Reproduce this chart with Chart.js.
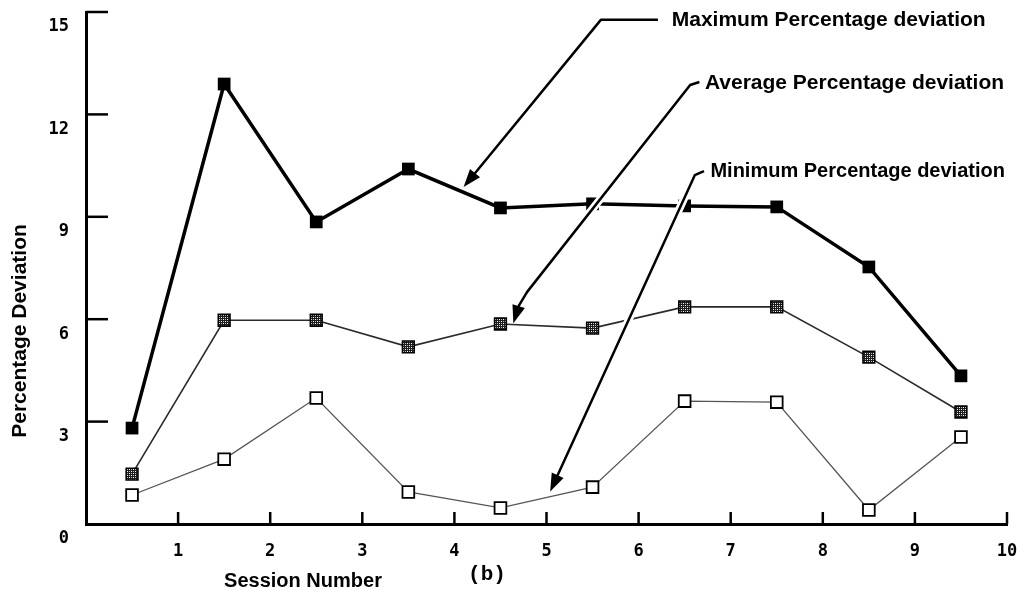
<!DOCTYPE html>
<html>
<head>
<meta charset="utf-8">
<script src="https://cdn.jsdelivr.net/npm/chart.js@4/dist/chart.umd.min.js"></script>
<style>
  html, body { margin: 0; padding: 0; background: #fff; }
  #wrap { width: 1024px; height: 599px; }
</style>
</head>
<body>
<div id="wrap"><canvas id="c" width="1024" height="599"></canvas></div>
<script>
// Session midpoints and the three deviation series (percent)
const sessions = [0.5, 1.5, 2.5, 3.5, 4.5, 5.5, 6.5, 7.5, 8.5, 9.5];
const maxDev = [2.81, 12.89, 8.85, 10.40, 9.26, 9.38, 9.32, 9.29, 7.53, 4.34];
const avgDev = [1.46, 5.97, 5.97, 5.19, 5.86, 5.74, 6.36, 6.36, 4.89, 3.28];
const minDev = [0.85, 1.90, 3.69, 0.94, 0.47, 1.08, 3.60, 3.57, 0.41, 2.55];

// Axis ticks
const xTicks = [0, 1, 2, 3, 4, 5, 6, 7, 8, 9, 10];
const yTicks = [0, 3, 6, 9, 12, 15];

// Callout labels with their leader paths, in data units (last point is the arrow tip)
const calloutText = ['Maximum Percentage deviation', 'Average Percentage deviation', 'Minimum Percentage deviation'];
const calloutSize = [21, 21, 20];
const calloutAnchor = [[6.36, 14.76], [6.72, 12.90], [6.78, 10.33]];
const calloutPath = [
  [[6.21, 14.77], [5.59, 14.77], [4.10, 9.87]],
  [[6.66, 12.95], [6.56, 12.86], [4.79, 6.80], [4.70, 6.40], [4.64, 5.88]],
  [[6.71, 10.34], [6.61, 10.22], [5.04, 0.95]]
];

const toXY = (xs, ys) => sessions.map((s, i) => ({ x: s, y: ys[i] }));

// Dithered fill for the average markers
const pc = document.createElement('canvas');
pc.width = 4; pc.height = 4;
const pg = pc.getContext('2d');
pg.fillStyle = '#1c1c1c'; pg.fillRect(0, 0, 4, 4);
pg.fillStyle = '#ffffff';
[[1, 1], [3, 3]].forEach(([a, b]) => pg.fillRect(a, b, 1, 1));
pg.fillStyle = '#bdbdbd';
[[1, 3], [3, 1]].forEach(([a, b]) => pg.fillRect(a, b, 1, 1));
const dither = pg.createPattern(pc, 'repeat');

const tickFont = { family: '"DejaVu Sans Mono", monospace', size: 17, weight: 'bold' };

const decor = {
  id: 'decor',
  afterDraw(chart) {
    const { ctx } = chart;
    const xs = chart.scales.x, ys = chart.scales.y;
    const px = v => xs.getPixelForValue(v);
    const py = v => ys.getPixelForValue(v);
    const x0 = px(0), y0 = py(0);

    ctx.save();
    ctx.strokeStyle = '#000';
    ctx.lineCap = 'butt';
    ctx.lineWidth = 2.5;
    // inward tick marks
    yTicks.forEach(v => {
      if (v === 0) return;
      const y = py(v);
      ctx.beginPath(); ctx.moveTo(x0, y); ctx.lineTo(x0 + 22, y); ctx.stroke();
    });
    xTicks.forEach(v => {
      if (v === 0) return;
      const x = px(v);
      ctx.beginPath(); ctx.moveTo(x, y0); ctx.lineTo(x, y0 - 12); ctx.stroke();
    });

    // callout leaders with arrowheads
    calloutPath.forEach(path => {
      const pts = path.map(([a, b]) => [px(a), py(b)]);
      const tip = pts[pts.length - 1], prev = pts[pts.length - 2];
      const ang = Math.atan2(tip[1] - prev[1], tip[0] - prev[0]);
      const hl = 18, hw = 6.5;
      const bx = tip[0] - hl * Math.cos(ang), by = tip[1] - hl * Math.sin(ang);
      const head = [
        tip,
        [bx + hw * Math.sin(ang), by - hw * Math.cos(ang)],
        [bx - hw * Math.sin(ang), by + hw * Math.cos(ang)]
      ];
      const linePath = () => {
        ctx.beginPath();
        ctx.moveTo(pts[0][0], pts[0][1]);
        for (let i = 1; i < pts.length - 1; i++) ctx.lineTo(pts[i][0], pts[i][1]);
        ctx.lineTo(bx + 4 * Math.cos(ang), by + 4 * Math.sin(ang));
      };
      const headPath = () => {
        ctx.beginPath();
        ctx.moveTo(head[0][0], head[0][1]);
        ctx.lineTo(head[1][0], head[1][1]);
        ctx.lineTo(head[2][0], head[2][1]);
        ctx.closePath();
      };
      ctx.lineJoin = 'round';
      ctx.strokeStyle = '#fff';
      ctx.lineWidth = 8;
      linePath(); ctx.stroke();
      ctx.strokeStyle = '#000';
      ctx.lineWidth = 2.5;
      linePath(); ctx.stroke();
      ctx.fillStyle = '#000';
      headPath(); ctx.fill();
    });

    // callout texts
    ctx.fillStyle = '#000';
    ctx.textBaseline = 'middle';
    ctx.textAlign = 'left';
    calloutText.forEach((t, i) => {
      ctx.font = 'bold ' + calloutSize[i] + 'px "Liberation Sans", Arial, sans-serif';
      ctx.fillText(t, px(calloutAnchor[i][0]), py(calloutAnchor[i][1]));
    });

    // axis titles
    ctx.font = 'bold 20px "Liberation Sans", Arial, sans-serif';
    ctx.textAlign = 'center';
    ctx.fillText('Session Number', 303, 581);
    ctx.save();
    ctx.translate(20, 331);
    ctx.rotate(-Math.PI / 2);
    ctx.font = 'bold 21px "Liberation Sans", Arial, sans-serif';
    ctx.fillText('Percentage Deviation', 0, 0);
    ctx.restore();

    // panel tag
    ctx.font = 'bold 21px "Liberation Mono", "Courier New", monospace';
    ctx.fillText('(b)', 487, 575);
    ctx.restore();
  }
};

new Chart(document.getElementById('c'), {
  type: 'line',
  data: {
    datasets: [
      {
        label: 'Maximum Percentage deviation',
        data: toXY(sessions, maxDev),
        borderColor: '#000',
        borderWidth: 3.5,
        pointStyle: 'rect',
        pointRadius: 9,
        pointBackgroundColor: '#000',
        pointBorderColor: '#000',
        pointBorderWidth: 0,
        tension: 0
      },
      {
        label: 'Average Percentage deviation',
        data: toXY(sessions, avgDev),
        borderColor: '#2a2a2a',
        borderWidth: 1.6,
        pointStyle: 'rect',
        pointRadius: 8.3,
        pointBackgroundColor: dither,
        pointBorderColor: '#000',
        pointBorderWidth: 1.6,
        tension: 0
      },
      {
        label: 'Minimum Percentage deviation',
        data: toXY(sessions, minDev),
        borderColor: '#555',
        borderWidth: 1.3,
        pointStyle: 'rect',
        pointRadius: 8.3,
        pointBackgroundColor: '#fff',
        pointBorderColor: '#000',
        pointBorderWidth: 1.8,
        tension: 0
      }
    ]
  },
  options: {
    responsive: false,
    animation: false,
    devicePixelRatio: 1,
    layout: { padding: { left: 0, right: 17, top: 12, bottom: 0 } },
    plugins: { legend: { display: false }, tooltip: { enabled: false } },
    scales: {
      x: {
        type: 'linear',
        min: 0, max: 10,
        afterBuildTicks: s => { s.ticks = xTicks.map(v => ({ value: v })); },
        ticks: {
          callback: v => (v === 0 ? '' : String(v)),
          font: tickFont, color: '#000', padding: 9,
          maxRotation: 0, autoSkip: false
        },
        grid: { display: false },
        border: { display: true, color: '#000', width: 3 },
        afterFit: s => { s.height = 75; s.paddingLeft = 0; s.paddingRight = 0; }
      },
      y: {
        min: 0, max: 15,
        afterBuildTicks: s => { s.ticks = yTicks.map(v => ({ value: v })); },
        ticks: { font: tickFont, color: '#000', padding: 9, labelOffset: 15 },
        grid: { display: false },
        border: { display: true, color: '#000', width: 3 },
        afterFit: s => { s.width = 86; s.paddingTop = 0; s.paddingBottom = 0; }
      }
    }
  },
  plugins: [decor]
});
</script>
</body>
</html>
